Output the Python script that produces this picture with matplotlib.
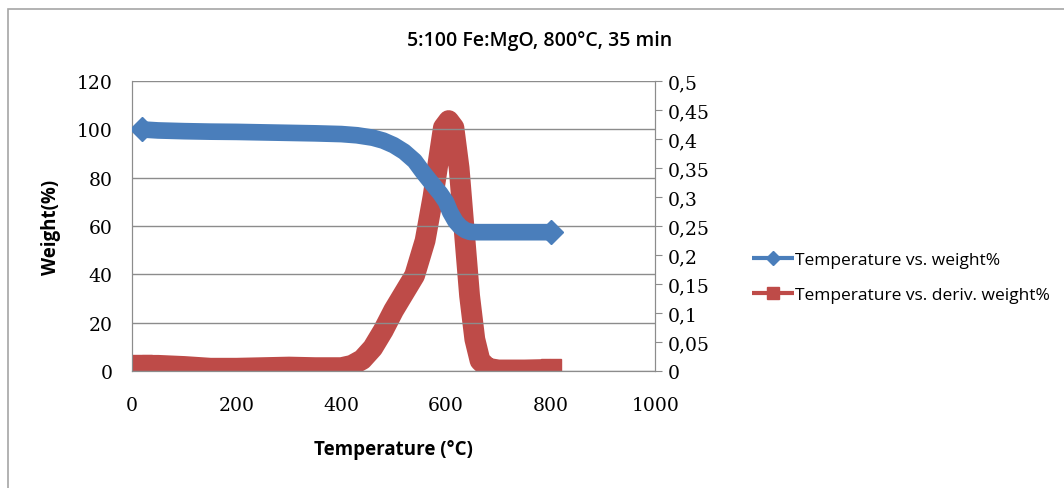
import matplotlib
matplotlib.use("Agg")
import matplotlib.pyplot as plt
from matplotlib.ticker import FuncFormatter, MultipleLocator
from matplotlib.patches import Rectangle

# Thermogravimetric data: temperature (°C), weight (%), derivative weight (%/°C)
temp_weight = [20, 50, 100, 150, 200, 250, 300, 350, 400, 430, 460, 480, 500, 520,
               540, 556, 570, 589, 600, 608, 618, 627, 637, 646, 660, 700, 750, 800]
weight = [100.0, 99.6, 99.3, 99.1, 99.0, 98.8, 98.6, 98.4, 98.1, 97.6, 96.6, 95.4,
          93.5, 90.8, 87.0, 82.3, 78.5, 73.5, 70.0, 65.8, 62.0, 59.8, 58.3, 57.6,
          57.5, 57.5, 57.5, 57.5]

temp_deriv = [20, 50, 100, 150, 200, 250, 300, 350, 400, 420, 440, 460, 480, 500,
              520, 540, 560, 575, 585, 595, 605, 615, 625, 635, 645, 655, 665, 680,
              700, 750, 800]
deriv_weight = [0.010, 0.010, 0.008, 0.005, 0.005, 0.006, 0.007, 0.006, 0.006, 0.010,
                0.020, 0.040, 0.070, 0.105, 0.135, 0.165, 0.225, 0.300, 0.360, 0.420,
                0.432, 0.420, 0.350, 0.240, 0.130, 0.055, 0.018, 0.005, 0.002, 0.002,
                0.003]

title = "5:100 Fe:MgO, 800\u00b0C, 35 min"
xlabel = "Temperature (\u00b0C)"
ylabel = "Weight(%)"
label_weight = "Temperature vs. weight%"
label_deriv = "Temperature vs. deriv. weight%"

BLUE = "#4a7ebb"
RED = "#be4b48"
GRID = "#8c8c8c"

fig = plt.figure(figsize=(10.64, 4.89), dpi=100)
fig.patch.set_facecolor("white")
fig.patches.append(Rectangle((8 / 1064, -0.1), 1.2, 1 - 10 / 489 + 0.1,
                             transform=fig.transFigure, fill=False,
                             edgecolor="#a6a6a6", linewidth=1.2))

ax = fig.add_axes([0.124, 0.239, 0.492, 0.593])
ax2 = ax.twinx()

serif = ["DejaVu Serif"]
sans = ["Open Sans", "DejaVu Sans"]

ax.plot(temp_weight, weight, color=BLUE, linewidth=12, solid_capstyle="butt",
        solid_joinstyle="round", marker="D", markersize=12,
        markevery=[0, len(weight) - 1], zorder=3)
ax2.plot(temp_deriv, deriv_weight, color=RED, linewidth=15, solid_capstyle="butt",
         solid_joinstyle="round", marker="s", markersize=14,
         markevery=[0, len(deriv_weight) - 1], zorder=4)

ax.set_xlim(0, 1000)
ax.set_ylim(0, 120)
ax2.set_ylim(0, 0.5)
ax.set_zorder(ax2.get_zorder() + 1)
ax.patch.set_visible(False)

ax.xaxis.set_major_locator(MultipleLocator(200))
ax.yaxis.set_major_locator(MultipleLocator(20))
ax2.yaxis.set_major_locator(MultipleLocator(0.05))
ax2.yaxis.set_major_formatter(
    FuncFormatter(lambda v, p: ("%g" % round(v, 2)).replace(".", ",")))

ax.yaxis.grid(True, color=GRID, linewidth=1.0)
ax.set_axisbelow(True)

for a in (ax, ax2):
    for s in a.spines.values():
        s.set_color(GRID)
    a.spines["top"].set_visible(False)

ax.tick_params(axis="x", length=0, pad=18, labelsize=13.5)
ax.tick_params(axis="y", length=0, pad=14, labelsize=13.5)
ax2.tick_params(axis="y", length=5, color=GRID, pad=4, labelsize=13.5)
for lab in ax.get_xticklabels() + ax.get_yticklabels() + ax2.get_yticklabels():
    lab.set_family(serif)

ax.set_xlabel(xlabel, family=sans, fontweight="bold", fontsize=13.5, labelpad=18)
ax.set_ylabel(ylabel, family=sans, fontweight="bold", fontsize=13.5, labelpad=11)
fig.text(540 / 1064, 1 - 41 / 489, title, ha="center", va="center",
         family=sans, fontweight="semibold", fontsize=14)

handles = [ax.lines[0], ax2.lines[0]]
fig.legend(handles, [label_weight, label_deriv], loc="center left",
           bbox_to_anchor=(0.692, 0.43), frameon=False, handlelength=2.4,
           handletextpad=0.1, labelspacing=1.1, prop={"family": sans, "size": 12.5})
leg = fig.legends[0]
for h, ms in zip(leg.legend_handles, (7, 8)):
    h.set_linewidth(3)
    h.set_markersize(ms)

fig.savefig("out.png", dpi=100)
